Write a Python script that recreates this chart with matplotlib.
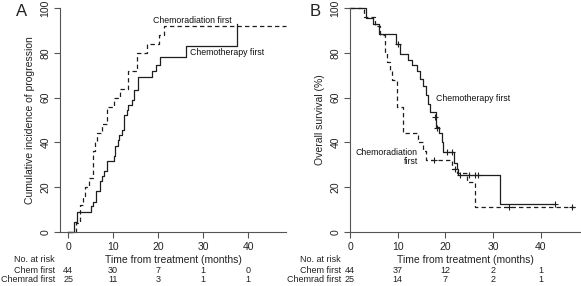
import numpy as np
import matplotlib
matplotlib.use('Agg')
import matplotlib.pyplot as plt

plt.rcParams['font.family'] = ['Liberation Sans', 'DejaVu Sans']

# ------------------------------------------------------------------
# Panel A - cumulative incidence of progression (step curves)
# ------------------------------------------------------------------
a_chem_t = [0, 1.3, 1.9, 5.0, 5.6, 6.2, 7.0, 7.5, 7.9, 8.6, 10.1, 10.5, 11.0, 11.4,
            11.9, 12.5, 13.0, 13.4, 14.1, 14.6, 15.6, 18.6, 19.6, 20.4, 26.2, 37.6]
a_chem_y = [0, 4.5, 9.1, 11.4, 13.6, 18.2, 22.7, 25.0, 27.3, 31.8, 34.1, 38.6, 40.9, 43.2,
            45.5, 52.3, 54.5, 56.8, 59.1, 63.6, 69.3, 72.0, 74.7, 78.0, 83.0, 93.0]

a_crad_t = [0, 1.8, 2.7, 3.3, 3.8, 4.6, 5.6, 6.0, 6.4, 7.5, 8.6, 10.1, 11.6,
            13.4, 15.3, 17.5, 20.1, 21.2, 48.4]
a_crad_y = [0, 4, 12, 16, 20, 24, 36, 40, 44, 48, 56, 60, 64,
            72, 80, 84, 88, 92, 92]

# ------------------------------------------------------------------
# Panel B - overall survival (Kaplan-Meier)
# ------------------------------------------------------------------
b_chem_t = [0, 3.3, 4.9, 6.1, 9.6, 10.5, 12.2, 12.9, 14.0, 14.7, 15.2, 15.9, 16.3,
            16.7, 18.0, 18.7, 19.2, 19.5, 21.8, 22.4, 22.7, 31.4, 43.0]
b_chem_y = [100, 95.5, 93, 88.5, 84, 79.5, 77, 74.5, 72, 68.5, 65, 61, 57,
            53.5, 47, 44, 40, 35.5, 31, 28, 25.5, 12.7, 12.7]
b_chem_cens_t = [10.1, 17.8, 18.2, 20.3, 21.3, 23.1, 25.0, 26.2, 26.9, 43.0]
b_chem_cens_y = [84, 51.5, 46.5, 35.5, 35.5, 25.5, 25.5, 25.5, 25.5, 12.7]

b_crad_t = [0, 2.9, 5.3, 6.2, 7.3, 7.7, 8.3, 8.7, 9.9, 11.2, 14.3, 15.4, 16.0,
            21.3, 22.5, 24.5, 26.2, 47.2]
b_crad_y = [100, 96, 92, 88, 80, 76, 72, 68, 56, 44, 40, 36, 32,
            28, 26.5, 22.5, 11, 11]
b_crad_cens_t = [17.6, 22.0, 33.4, 46.5]
b_crad_cens_y = [32, 28, 11, 11]

# numbers at risk
risk_times = [0, 10, 20, 30, 40]
a_risk_chem = [44, 30, 7, 1, 0]
a_risk_crad = [25, 11, 3, 1, 1]
b_risk_chem = [44, 37, 12, 2, 1]
b_risk_crad = [25, 14, 7, 2, 1]

W, H = 581, 286
fig = plt.figure(figsize=(W / 100, H / 100), dpi=100)

line_col = '#1e1e1e'
axis_col = '#555555'
txt_col = '#222222'
fs = 7.5
rfs = 6.5


def make_axes(left_px, right_px, xlim):
    ax = fig.add_axes([left_px / W, (H - 232) / H, (right_px - left_px) / W, 224 / H])
    ax.set_xlim(*xlim)
    ax.set_ylim(0, 100)
    for s in ['top', 'right']:
        ax.spines[s].set_visible(False)
    for s in ['left', 'bottom']:
        ax.spines[s].set_color(axis_col)
        ax.spines[s].set_linewidth(0.8)
    ax.set_xticks(risk_times)
    ax.set_yticks([0, 20, 40, 60, 80, 100])
    ax.tick_params(direction='out', length=4, width=0.8, color=axis_col,
                   labelsize=fs, labelcolor=txt_col, pad=3)
    for lab in ax.get_yticklabels():
        lab.set_rotation(90)
        lab.set_va('center')
    return ax


def risk_table(ax, chem, crad, lab_x):
    tr = ax.get_xaxis_transform()
    y1, y2 = -0.174, -0.214
    ax.text(0.5, -0.125, 'Time from treatment (months)', transform=ax.transAxes,
            ha='center', va='center', fontsize=fs, color=txt_col)
    ax.text(lab_x, -0.125, 'No. at risk', transform=ax.transAxes,
            ha='right', va='center', fontsize=rfs, color=txt_col)
    ax.text(lab_x, y1, 'Chem first', transform=ax.transAxes,
            ha='right', va='center', fontsize=rfs, color=txt_col)
    ax.text(lab_x, y2, 'Chemrad first', transform=ax.transAxes,
            ha='right', va='center', fontsize=rfs, color=txt_col)
    for t, n1, n2 in zip(risk_times, chem, crad):
        ax.text(t, y1, str(n1), transform=tr, ha='center', va='center',
                fontsize=rfs, color=txt_col)
        ax.text(t, y2, str(n2), transform=tr, ha='center', va='center',
                fontsize=rfs, color=txt_col)


# ---------------- Panel A ----------------
axA = make_axes(60, 286, (-1.8, 48.4))
axA.step(a_chem_t, a_chem_y, where='post', color=line_col, lw=0.9, clip_on=False)
axA.step(a_crad_t, a_crad_y, where='post', color=line_col, lw=0.9,
         linestyle=(0, (3.5, 2.5)), clip_on=False)
axA.set_ylabel('Cumulative incidence of progression', fontsize=fs, color=txt_col, labelpad=4)
axA.text(18.9, 94.6, 'Chemoradiation first', fontsize=6.3, ha='left', va='center', color='#111111')
axA.text(27.1, 80.0, 'Chemotherapy first', fontsize=6.3, ha='left', va='center', color='#111111')
fig.text(16 / W, 1 - 11 / H, 'A', fontsize=12, ha='left', va='center', color=txt_col)
risk_table(axA, a_risk_chem, a_risk_crad, -0.022)

# ---------------- Panel B ----------------
axB = make_axes(350, 580, (0, 48.2))
axB.step(b_chem_t, b_chem_y, where='post', color=line_col, lw=0.9, clip_on=False)
axB.step(b_crad_t, b_crad_y, where='post', color=line_col, lw=0.9,
         linestyle=(0, (3.5, 2.5)), clip_on=False)
axB.plot(b_chem_cens_t, b_chem_cens_y, '+', color=line_col, ms=5, mew=0.8, clip_on=False)
axB.plot(b_crad_cens_t, b_crad_cens_y, '+', color=line_col, ms=5, mew=0.8, clip_on=False)
axB.set_ylabel('Overall survival (%)', fontsize=fs, color=txt_col, labelpad=4)
axB.text(18.0, 59.8, 'Chemotherapy first', fontsize=6.3, ha='left', va='center', color='#111111')
axB.text(14.2, 33.5, 'Chemoradiation\nfirst', fontsize=6.3, ha='right', va='center',
         multialignment='right', color='#111111', linespacing=0.9)
fig.text(310 / W, 1 - 11 / H, 'B', fontsize=12, ha='left', va='center', color=txt_col)
risk_table(axB, b_risk_chem, b_risk_crad, -0.04)

fig.savefig('out.png', dpi=100)
